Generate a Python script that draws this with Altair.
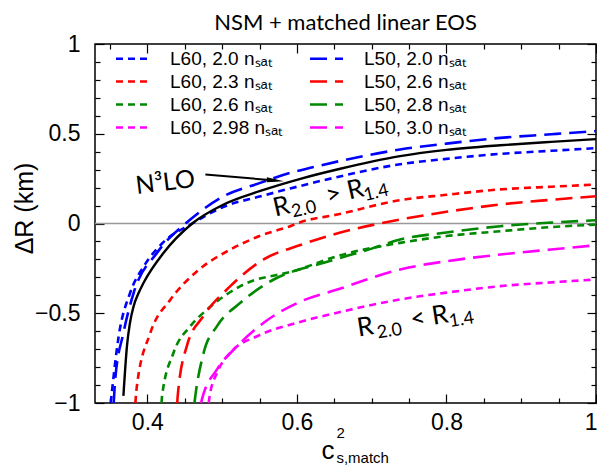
import altair as alt
import pandas as pd

# ---------------- data ----------------
X_DOMAIN = [0.33, 1.0]
Y_DOMAIN = [-1.0, 1.0]

series_names = ["L60, 2.0 nₛₐₜ", "L60, 2.3 nₛₐₜ", "L60, 2.6 nₛₐₜ", "L60, 2.98 nₛₐₜ",
                "L50, 2.0 nₛₐₜ", "L50, 2.6 nₛₐₜ", "L50, 2.8 nₛₐₜ", "L50, 3.0 nₛₐₜ"]
series_colors = ["#0000ff", "#ff0000", "#008800", "#ff00ff",
                 "#0000ff", "#ff0000", "#008800", "#ff00ff"]
series_dashes = [[7, 5], [7, 5], [7, 5], [7, 5], [17, 8], [17, 8], [17, 8], [17, 8]]
series_widths = [2.6, 2.6, 2.6, 2.6, 1.8, 1.8, 1.8, 1.8]

n3lo_x = [0.368, 0.3728, 0.3765, 0.3817, 0.388, 0.395, 0.4218, 0.46, 0.502, 0.55, 0.6047, 0.658, 0.738, 0.8, 0.872, 0.94, 1.0]
n3lo_y = [-0.96, -0.68, -0.56, -0.46, -0.39, -0.33, -0.163, 0.0, 0.106, 0.18, 0.249, 0.305, 0.375, 0.41, 0.436, 0.455, 0.47]

l60_20_x = [0.351, 0.3616, 0.377, 0.395, 0.42, 0.46, 0.502, 0.55, 0.591, 0.65, 0.738, 0.8, 0.872, 0.94, 1.0]
l60_20_y = [-1.0, -0.63, -0.386, -0.24, -0.11, 0.0, 0.093, 0.15, 0.195, 0.255, 0.33, 0.36, 0.388, 0.405, 0.42]

l50_20_x = [0.355, 0.357, 0.368, 0.3817, 0.413, 0.4575, 0.502, 0.55, 0.591, 0.618, 0.738, 0.8, 0.872, 0.94, 1.0]
l50_20_y = [-1.0, -0.87, -0.61, -0.386, -0.163, 0.022, 0.152, 0.225, 0.282, 0.31, 0.412, 0.445, 0.477, 0.497, 0.515]

l60_23_x = [0.384, 0.386, 0.404, 0.431, 0.4665, 0.511, 0.55, 0.591, 0.6047, 0.654, 0.738, 0.8, 0.872, 0.94, 1.0]
l60_23_y = [-1.0, -0.906, -0.61, -0.423, -0.266, -0.145, -0.07, -0.015, 0.007, 0.05, 0.13, 0.16, 0.19, 0.205, 0.217]

l50_26_x = [0.44, 0.4406, 0.453, 0.475, 0.511, 0.5556, 0.6047, 0.65, 0.738, 0.8, 0.872, 0.94, 1.0]
l50_26_y = [-1.0, -0.96, -0.68, -0.516, -0.349, -0.2, -0.12, -0.06, 0.022, 0.065, 0.106, 0.132, 0.152]

l60_26_x = [0.419, 0.4197, 0.435, 0.4575, 0.48, 0.5244, 0.6, 0.6538, 0.738, 0.8, 0.872, 0.94, 1.0]
l60_26_y = [-1.0, -0.96, -0.72, -0.572, -0.479, -0.349, -0.26, -0.182, -0.108, -0.07, -0.043, -0.02, -0.006]

l50_28_x = [0.463, 0.4642, 0.4753, 0.4932, 0.5244, 0.569, 0.636, 0.7, 0.738, 0.8, 0.872, 0.94, 1.0]
l50_28_y = [-1.0, -0.96, -0.72, -0.572, -0.442, -0.312, -0.219, -0.14, -0.089, -0.05, -0.015, 0.005, 0.018]

l60_298_x = [0.482, 0.4834, 0.4932, 0.511, 0.5468, 0.6003, 0.6538, 0.738, 0.8, 0.872, 0.94, 1.0]
l60_298_y = [-1.0, -0.96, -0.832, -0.72, -0.628, -0.553, -0.497, -0.423, -0.385, -0.349, -0.328, -0.312]

l50_30_x = [0.472, 0.473, 0.4932, 0.52, 0.5556, 0.6047, 0.654, 0.738, 0.8, 0.872, 0.94, 1.0]
l50_30_y = [-1.0, -0.98, -0.813, -0.684, -0.553, -0.435, -0.368, -0.256, -0.21, -0.173, -0.145, -0.121]

x_major = [0.4, 0.6, 0.8, 1.0]
x_minor = [0.35, 0.45, 0.5, 0.55, 0.65, 0.7, 0.75, 0.85, 0.9, 0.95]
y_major = [-1, -0.5, 0, 0.5, 1]
y_minor = [-0.9, -0.8, -0.7, -0.6, -0.4, -0.3, -0.2, -0.1, 0.1, 0.2, 0.3, 0.4, 0.6, 0.7, 0.8, 0.9]

zero_line = [0.0]

# ---------------- tables ----------------
curves_xy = [(l60_20_x, l60_20_y), (l60_23_x, l60_23_y), (l60_26_x, l60_26_y), (l60_298_x, l60_298_y),
             (l50_20_x, l50_20_y), (l50_26_x, l50_26_y), (l50_28_x, l50_28_y), (l50_30_x, l50_30_y)]
rows = []
for name, (xs_, ys_) in zip(series_names, curves_xy):
    for i, (a, b) in enumerate(zip(xs_, ys_)):
        rows.append({"series": name, "x": a, "y": b, "i": i})
df_curves = pd.DataFrame(rows)
df_n3lo = pd.DataFrame({"x": n3lo_x, "y": n3lo_y})

xs = alt.Scale(domain=X_DOMAIN, nice=False, zero=False)
ys = alt.Scale(domain=Y_DOMAIN, nice=False, zero=False)

FONT_AX = "Liberation Sans"
FONT_ANN = "Lato"


def ax_common(**kw):
    base = dict(domain=False, grid=False, title=None, tickColor="black", tickWidth=1.2,
                labelColor="black")
    base.update(kw)
    return alt.Axis(**base)


x_major_axis = ax_common(orient="bottom", values=x_major, format="~g", offset=-9, tickSize=9,
                         labelFont=FONT_AX, labelFontSize=23, labelPadding=8,
                         labelFlush=True, labelFlushOffset=1, labelOverlap=False)
y_major_axis = ax_common(orient="left", values=y_major, format="~g", offset=-9, tickSize=9,
                         labelFont=FONT_AX, labelFontSize=23, labelPadding=15,
                         labelFlush=False, labelOverlap=False)
x_minor_axis = ax_common(orient="bottom", values=x_minor, offset=-5, tickSize=5, labels=False)
y_minor_axis = ax_common(orient="left", values=y_minor, offset=-5, tickSize=5, labels=False)
x_top_major = ax_common(orient="top", values=x_major, offset=-9, tickSize=9, labels=False)
y_right_major = ax_common(orient="right", values=y_major, offset=-9, tickSize=9, labels=False)
x_top_minor = ax_common(orient="top", values=x_minor, offset=-5, tickSize=5, labels=False)
y_right_minor = ax_common(orient="right", values=y_minor, offset=-5, tickSize=5, labels=False)


def carrier(xa, ya):
    return alt.Chart(df_n3lo).mark_line(opacity=0).encode(
        x=alt.X("x:Q", scale=xs, axis=xa), y=alt.Y("y:Q", scale=ys, axis=ya))


# legend symbol: a horizontal stroke three times as long as the nominal symbol size
leg = alt.Legend(title=None, orient="none", legendX=28, legendY=5, columns=2,
                 columnPadding=21, rowPadding=3, symbolType="M-3,0L3,0", symbolSize=121,
                 symbolFillColor="transparent",
                 labelFont=FONT_AX, labelFontSize=19, labelColor="black", labelOffset=28,
                 labelLimit=300)

zero = alt.Chart(pd.DataFrame({"y": zero_line})).mark_rule(color="#999999", strokeWidth=1.5).encode(
    y=alt.Y("y:Q", scale=ys, axis=None))

curves = alt.Chart(df_curves).mark_line(interpolate="monotone", clip=True).encode(
    x=alt.X("x:Q", scale=xs, axis=x_major_axis),
    y=alt.Y("y:Q", scale=ys, axis=y_major_axis),
    color=alt.Color("series:N", scale=alt.Scale(domain=series_names, range=series_colors), legend=leg),
    strokeDash=alt.StrokeDash("series:N", scale=alt.Scale(domain=series_names, range=series_dashes), legend=leg),
    strokeWidth=alt.StrokeWidth("series:N", scale=alt.Scale(domain=series_names, range=series_widths), legend=leg),
    order="i:Q",
)

n3lo = alt.Chart(df_n3lo).mark_line(interpolate="monotone", color="black", strokeWidth=2.4, clip=True).encode(
    x=alt.X("x:Q", scale=xs, axis=None), y=alt.Y("y:Q", scale=ys, axis=None))

# ---------------- annotations ----------------
def txt(x, y, t, **kw):
    df = pd.DataFrame({"x": [x], "y": [y], "t": [t]})
    return alt.Chart(df).mark_text(**kw).encode(
        x=alt.X("x:Q", scale=xs, axis=None), y=alt.Y("y:Q", scale=ys, axis=None), text="t:N")


arrow_df = pd.DataFrame({"x": [0.4776], "y": [0.273], "x2": [0.5712], "y2": [0.2396]})
arrow_line = alt.Chart(arrow_df).mark_rule(color="black", strokeWidth=2).encode(
    x=alt.X("x:Q", scale=xs, axis=None), y=alt.Y("y:Q", scale=ys, axis=None), x2="x2:Q", y2="y2:Q")
arrow_head = alt.Chart(arrow_df).mark_point(
    shape="M-1,-0.3L1,0L-1,0.3Z", size=300, filled=True, color="black", opacity=1, angle=5).encode(
    x=alt.X("x2:Q", scale=xs, axis=None), y=alt.Y("y2:Q", scale=ys, axis=None))

ann = [
    txt(0.4241, 0.2284, "N³LO", font=FONT_ANN, fontSize=25, angle=353, align="center", baseline="middle"),
    # R_2.0 > R_1.4
    txt(0.5712, 0.039, "R", font=FONT_ANN, fontSize=26, angle=347, align="left", baseline="alphabetic"),
    txt(0.5712, 0.039, "2.0", font=FONT_ANN, fontSize=18, angle=347, align="left", baseline="alphabetic", dx=17, dy=5),
    txt(0.5712, 0.039, "> R", font=FONT_ANN, fontSize=26, angle=347, align="left", baseline="alphabetic", dx=54),
    txt(0.5712, 0.039, "1.4", font=FONT_ANN, fontSize=18, angle=347, align="left", baseline="alphabetic", dx=91, dy=5),
    # R_2.0 < R_1.4
    txt(0.6823, -0.6295, "R", font=FONT_ANN, fontSize=26, angle=351, align="left", baseline="alphabetic"),
    txt(0.6823, -0.6295, "2.0", font=FONT_ANN, fontSize=18, angle=351, align="left", baseline="alphabetic", dx=19, dy=5),
    txt(0.6823, -0.6295, "< R", font=FONT_ANN, fontSize=26, angle=351, align="left", baseline="alphabetic", dx=54),
    txt(0.6823, -0.6295, "1.4", font=FONT_ANN, fontSize=18, angle=351, align="left", baseline="alphabetic", dx=92, dy=5),
    # axis titles
    txt(0.6328, -1.31, "c", font=FONT_AX, fontSize=26, align="left", baseline="alphabetic"),
    txt(0.6528, -1.195, "2", font=FONT_AX, fontSize=15, align="left", baseline="alphabetic"),
    txt(0.6528, -1.333, "s,match", font=FONT_AX, fontSize=15, align="left", baseline="alphabetic"),
    txt(0.2364, 0.0836, "ΔR (km)", font=FONT_AX, fontSize=25, angle=270, align="center", baseline="middle"),
]

chart = alt.layer(
    zero, curves, n3lo,
    carrier(x_minor_axis, y_minor_axis),
    carrier(x_top_major, y_right_major),
    carrier(x_top_minor, y_right_minor),
    arrow_line, arrow_head, *ann,
).resolve_axis(x="independent", y="independent").properties(
    width=501, height=359,
    title=alt.Title("NSM + matched linear EOS", font=FONT_ANN, fontSize=22, fontWeight="normal",
                    color="black", anchor="middle", offset=-2),
    padding={"left": 87, "top": 36, "right": 1, "bottom": 65},
    autosize=alt.AutoSizeParams(type="none"),
    background="white",
).configure_view(stroke="black", strokeWidth=1.5)

chart.save("out.html", embed_options={"renderer": "svg", "actions": False})
